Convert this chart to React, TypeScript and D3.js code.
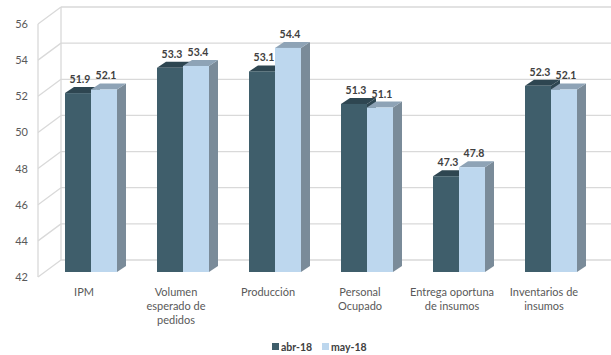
import * as d3 from 'd3';

const categories = [
  ['IPM'],
  ['Volumen', 'esperado de', 'pedidos'],
  ['Producción'],
  ['Personal', 'Ocupado'],
  ['Entrega oportuna', 'de insumos'],
  ['Inventarios de', 'insumos'],
];
const seriesNames = ['abr-18', 'may-18'];
const abr18 = [51.9, 53.3, 53.1, 51.3, 47.3, 52.3];
const may18 = [52.1, 53.4, 54.4, 51.1, 47.8, 52.1];
const yTicks = [42, 44, 46, 48, 50, 52, 54, 56];

const W = 611;
const H = 355;

// wall depth, bar plane offset and bar depth (oblique projection)
const wallDx = 23;
const wallDy = -17;
const offDx = 7;
const offDy = -5;
const barDx = 9;
const barDy = -6;

const palette = [
  { front: '#3F5E6B', top: '#2E4651', side: '#2E4651' },
  { front: '#BDD7EE', top: '#8EA3B6', side: '#7A8B99' },
];

const font = 'Lato, "Open Sans", sans-serif';

export default function App() {
  const keys = categories.map((c) => c.join(' '));
  const x = d3.scaleBand<string>().domain(keys).range([38, 590]);
  const xs = d3.scaleBand<string>().domain(seriesNames).range([-26, 26]);
  const y = d3.scaleLinear().domain([42, 56]).range([277, 24]);
  const values = [abr18, may18];

  const x0 = x.range()[0];

  const bars: JSX.Element[] = [];
  const labels: JSX.Element[] = [];
  keys.forEach((k, ci) => {
    seriesNames.forEach((s, si) => {
      const v = values[si][ci];
      const c = palette[si];
      const left = (x(k) ?? 0) + x.bandwidth() / 2 + offDx + (xs(s) ?? 0);
      const right = left + xs.bandwidth();
      const top = y(v) + offDy;
      const bottom = y(42) + offDy;
      const poly = (pts: number[][]) => pts.map((p) => p.join(',')).join(' ');
      bars.push(
        <g key={k + s}>
          <polygon
            points={poly([
              [right, top],
              [right + barDx, top + barDy],
              [right + barDx, bottom + barDy],
              [right, bottom],
            ])}
            fill={c.side}
          />
          <polygon
            points={poly([
              [left, top],
              [left + barDx, top + barDy],
              [right + barDx, top + barDy],
              [right, top],
            ])}
            fill={c.top}
          />
          <rect x={left} y={top} width={right - left} height={bottom - top} fill={c.front} />
        </g>,
      );
      labels.push(
        <text
          key={'l' + k + s}
          x={(left + right) / 2 + 2}
          y={top + barDy - 4}
          textAnchor="middle"
          fontSize={10.5}
          fontWeight="bold"
          fill="#404040"
        >
          {v.toFixed(1)}
        </text>,
      );
    });
  });

  return (
    <svg
      width={W}
      height={H}
      style={{ position: 'absolute', left: 0, top: 0, background: '#fff' }}
      fontFamily={font}
    >
      {/* back wall gridlines */}
      <g stroke="#D9D9D9" strokeWidth={1.3} fill="none">
        {yTicks.map((t) => (
          <g key={t}>
            <line x1={x0 + wallDx} x2={W + 5} y1={y(t) + wallDy} y2={y(t) + wallDy} />
            <line x1={x0} x2={x0 + wallDx} y1={y(t)} y2={y(t) + wallDy} />
          </g>
        ))}
        <line x1={x0 + wallDx} x2={x0 + wallDx} y1={y(56) + wallDy} y2={y(42) + wallDy} />
        <line x1={x0} x2={x0} y1={y(56)} y2={y(42)} />
      </g>
      {bars}
      {labels}
      {/* y axis tick labels */}
      <g fontSize={11} fill="#595959" textAnchor="end">
        {yTicks.map((t) => (
          <text key={t} x={28} y={y(t) + 4}>
            {t}
          </text>
        ))}
      </g>
      {/* category labels */}
      <g fontSize={11} fill="#595959" textAnchor="middle">
        {categories.map((lines, i) => (
          <text key={keys[i]} x={(x(keys[i]) ?? 0) + x.bandwidth() / 2} y={296}>
            {lines.map((ln, j) => (
              <tspan key={j} x={(x(keys[i]) ?? 0) + x.bandwidth() / 2} dy={j === 0 ? 0 : 14}>
                {ln}
              </tspan>
            ))}
          </text>
        ))}
      </g>
      {/* legend */}
      <g fontSize={10.5} fontWeight="bold" fill="#404040">
        {seriesNames.map((s, i) => {
          const lx = 272 + i * 50;
          return (
            <g key={s}>
              <rect x={lx} y={343} width={7} height={7} fill={palette[i].front} />
              <text x={lx + 9} y={350.5}>
                {s}
              </text>
            </g>
          );
        })}
      </g>
    </svg>
  );
}
